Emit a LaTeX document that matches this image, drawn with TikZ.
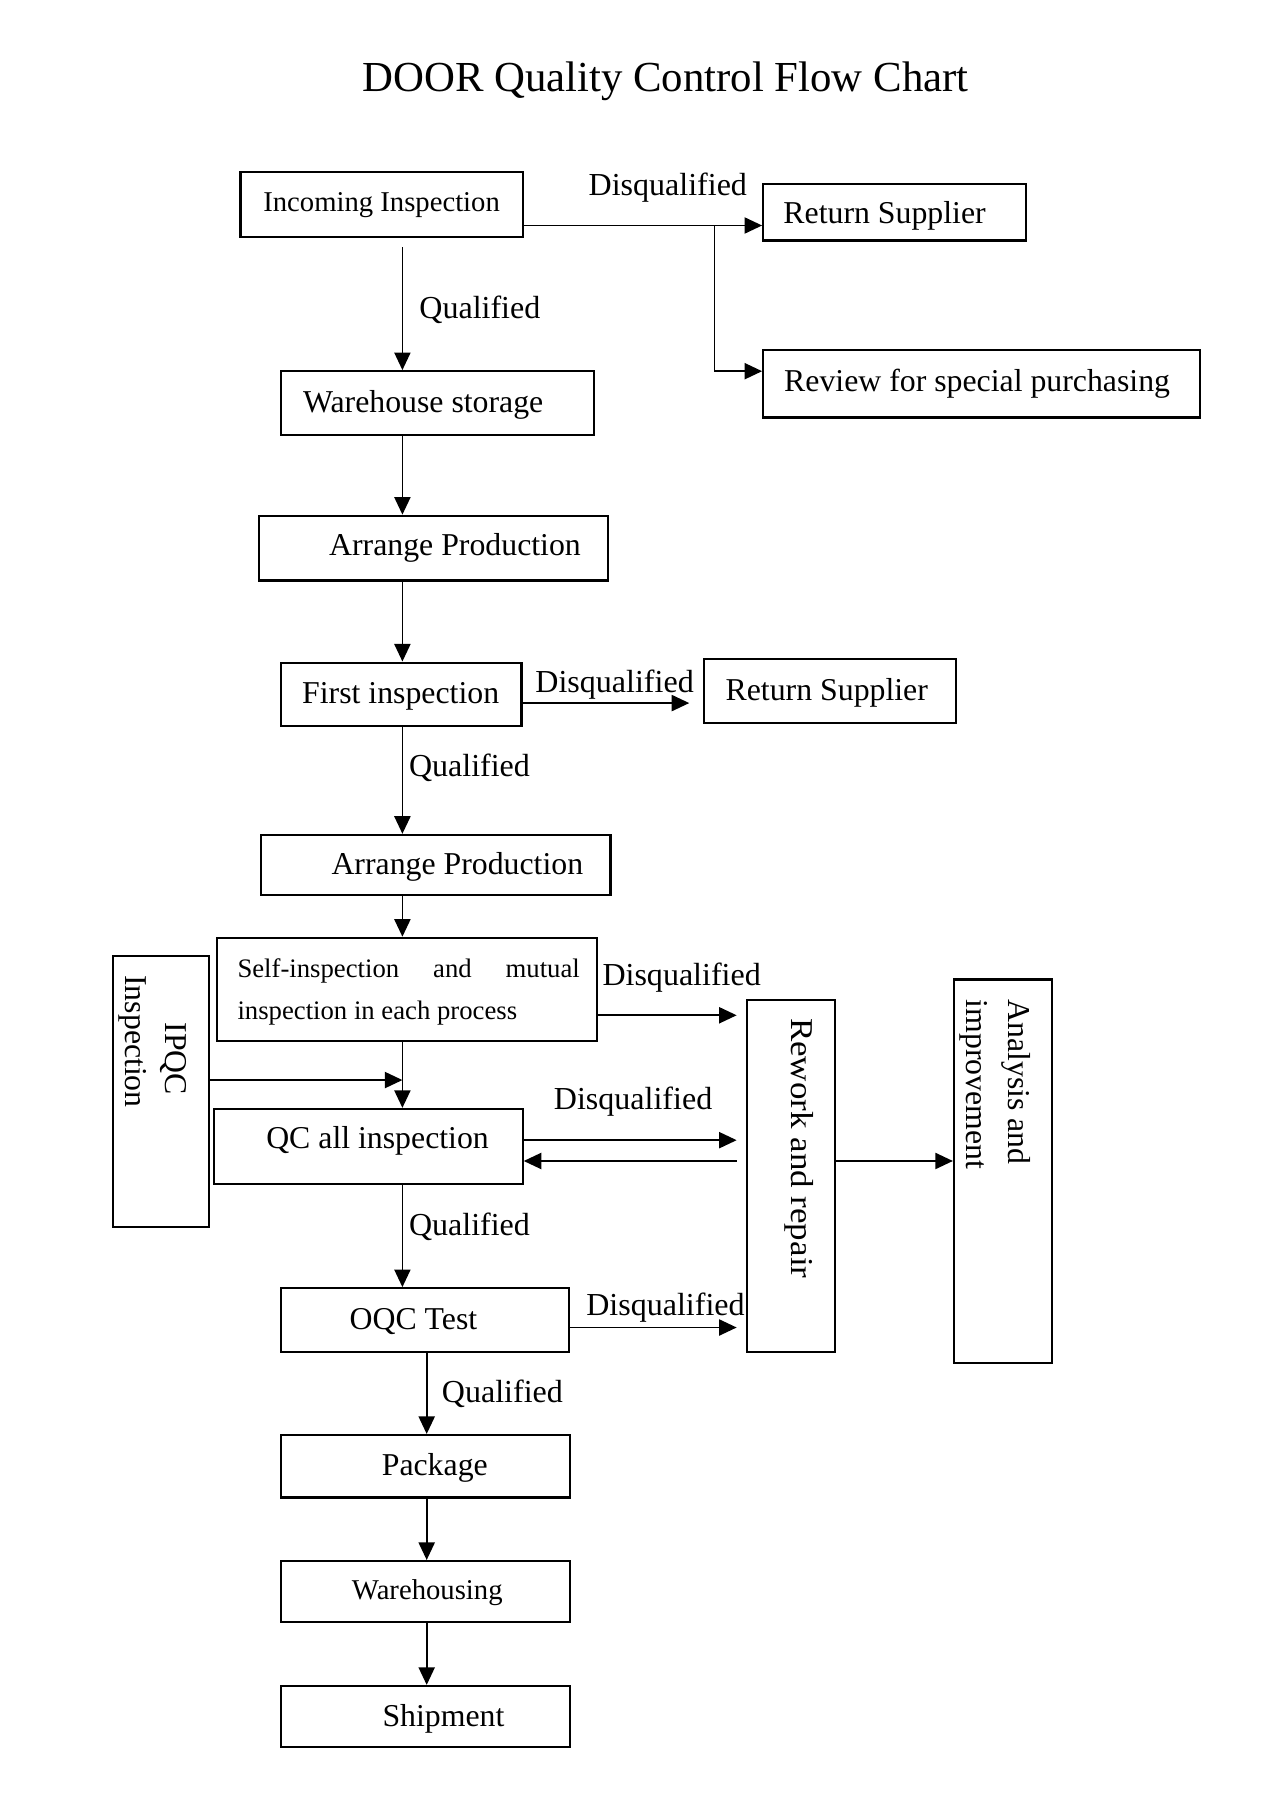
\documentclass[tikz,border=0pt]{standalone}
\usepackage{fontspec}
\setmainfont{Liberation Serif}
\usetikzlibrary{arrows.meta,fit}
\begin{document}
\begin{tikzpicture}[x=0.5pt,y=-0.5pt,
  box/.style={draw,line width=0.95pt,inner sep=0pt,rectangle},
  txt/.style={font=\fontsize{13.75}{16}\selectfont,inner sep=0pt},
  smalltxt/.style={font=\fontsize{12.4}{15}\selectfont,inner sep=0pt},
  lbl/.style={font=\fontsize{13.85}{16}\selectfont,inner sep=0pt},
  vtxt/.style={font=\fontsize{13.75}{16}\selectfont,inner sep=0pt,rotate=-90,anchor=west},
  ln/.style={line width=0.65pt},
  arr/.style={line width=0.7pt,-{Triangle[length=7.6pt,width=7pt]}}]
\useasboundingbox (0,0) rectangle (1100,1564.4);

% title
\node[font=\fontsize{18.5}{22}\selectfont,inner sep=0pt] (title) at (575.5,70) {DOOR Quality Control Flow Chart};

% boxes
\node[box,fit={(208,149) (452,205)}] (inc) {};
\node[box,fit={(660,159) (887,208)}] (rs1) {};
\node[box,fit={(660,303) (1038,361)}] (rev) {};
\node[box,fit={(243,321) (514,376)}] (wh) {};
\node[box,fit={(224,446) (526,502)}] (ap1) {};
\node[box,fit={(243,573) (451,628)}] (fi) {};
\node[box,fit={(609,570) (827,625)}] (rs2) {};
\node[box,fit={(226,722) (528,774)}] (ap2) {};
\node[box,fit={(188,811) (516,900)}] (self) {};
\node[box,fit={(98,827) (181,1061)}] (ipqc) {};
\node[box,fit={(185,959) (452,1024)}] (qc) {};
\node[box,fit={(646,865) (722,1169)}] (rw) {};
\node[box,fit={(825,847) (910,1179)}] (ana) {};
\node[box,fit={(243,1114) (492,1169)}] (oqc) {};
\node[box,fit={(243,1241) (493,1295)}] (pkg) {};
\node[box,fit={(243,1350) (493,1403)}] (wsg) {};
\node[box,fit={(243,1458) (493,1511)}] (shp) {};

% box texts
\node[smalltxt] (t-inc) at (330,177) {Incoming Inspection};
\node[txt] (t-rs1) at (765,187) {Return Supplier};
\node[txt] (t-rev) at (845,332) {Review for special purchasing};
\node[txt] (t-wh) at (366,350) {Warehouse storage};
\node[txt] (t-ap1) at (393.5,474) {Arrange Production};
\node[txt] (t-fi) at (346.5,602) {First inspection};
\node[txt] (t-rs2) at (715,599) {Return Supplier};
\node[txt] (t-ap2) at (395.5,750) {Arrange Production};
\node[font=\fontsize{11.55}{18}\selectfont,inner sep=0pt,anchor=west,align=left] (t-self) at (205,858)
  {\makebox[148pt][s]{Self-inspection\hfill and\hfill mutual}\\inspection in each process};
\node[vtxt] (t-ipqc1) at (150,884) {IPQC};
\node[vtxt] (t-ipqc2) at (115,843) {Inspection};
\node[txt] (t-qc) at (326.5,987) {QC all inspection};
\node[vtxt] (t-rw) at (691,880) {\scalebox{1.1}[1]{Rework and repair}};
\node[vtxt] (t-ana1) at (879,864) {Analysis and};
\node[vtxt] (t-ana2) at (841.6,864) {improvement};
\node[txt] (t-oqc) at (357.5,1143) {OQC Test};
\node[txt] (t-pkg) at (376,1269) {Package};
\node[smalltxt] (t-wsg) at (369.5,1377) {Warehousing};
\node[txt] (t-shp) at (383.5,1486) {Shipment};

% connector labels
\node[lbl] (l1) at (577.5,162) {Disqualified};
\node[lbl] (l2) at (415,268) {Qualified};
\node[lbl] (l3) at (531.5,592) {Disqualified};
\node[lbl] (l4) at (406,664) {Qualified};
\node[lbl] (l5) at (589.5,845) {Disqualified};
\node[lbl] (l6) at (547.5,953) {Disqualified};
\node[lbl] (l7) at (406,1061) {Qualified};
\node[lbl] (l8) at (575.5,1131) {Disqualified};
\node[lbl] (l9) at (434.5,1205) {Qualified};

% helper coordinates
\coordinate (spine) at (348,0);
\coordinate (spineb) at (369,0);
\coordinate (r1) at (0,195);
\coordinate (br) at (618,195);
\coordinate (r2) at (0,321);
\coordinate (r3) at (0,608);
\coordinate (j) at (348,934);
\coordinate (r4) at (0,878);
\coordinate (r5) at (0,986);
\coordinate (r6) at (0,1004);
\coordinate (r7) at (0,1148);

% connectors
\draw[arr,shorten <=4pt] (inc.south -| spine) -- (wh.north -| spine);
\draw[arr] (inc.east |- r1) -- (rs1.west |- r1);
\draw[arr] (br) |- (rev.west |- r2);
\draw[arr] (wh.south -| spine) -- (ap1.north -| spine);
\draw[arr] (ap1.south -| spine) -- (fi.north -| spine);
\draw[arr,shorten >=6pt] (fi.east |- r3) -- (rs2.west |- r3);
\draw[arr] (fi.south -| spine) -- (ap2.north -| spine);
\draw[arr] (ap2.south -| spine) -- (self.north -| spine);
\draw[arr] (self.south -| spine) -- (qc.north -| spine);
\draw[arr] (ipqc.east |- j) -- (j);
\draw[arr,shorten >=4pt] (self.east |- r4) -- (rw.west |- r4);
\draw[arr,shorten >=4pt] (qc.east |- r5) -- (rw.west |- r5);
\draw[arr,shorten <=4pt] (rw.west |- r6) -- (qc.east |- r6);
\draw[arr] (rw.east |- r6) -- (ana.west |- r6);
\draw[arr] (qc.south -| spine) -- (oqc.north -| spine);
\draw[arr,shorten >=4pt] (oqc.east |- r7) -- (rw.west |- r7);
\draw[arr] (oqc.south -| spineb) -- (pkg.north -| spineb);
\draw[arr] (pkg.south -| spineb) -- (wsg.north -| spineb);
\draw[arr] (wsg.south -| spineb) -- (shp.north -| spineb);
\end{tikzpicture}
\end{document}
